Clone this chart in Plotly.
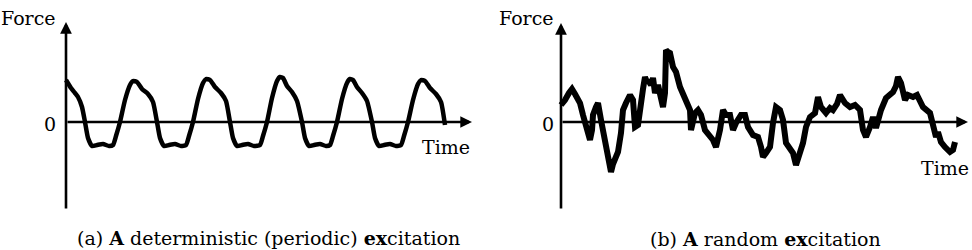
import plotly.graph_objects as go

# ---------------- data ----------------
# (a) deterministic periodic force vs time (arbitrary units)
t_a = [0, 5, 9, 12, 16, 19, 22, 26, 31, 37, 43, 47, 50,
       54, 59, 64, 67, 71, 76, 82, 87, 91, 94, 98, 103, 109, 115, 120, 123,
       127, 132, 137, 140, 144, 149, 155, 160, 164, 167, 171, 176, 182, 188, 194, 197,
       201, 206, 211, 214, 217, 221, 226, 231, 236, 239, 243, 248, 254, 260, 264, 267,
       271, 276, 281, 284, 287, 291, 296, 301, 306, 309, 313, 318, 324, 330, 335, 338,
       342, 347, 352, 355, 359, 364, 370, 375, 379]
f_a = [42, 34, 29, 25, 15, 0, -16, -24, -23, -22, -24, -23, -14,
       0, 22, 37, 41, 40, 33, 28, 20, 0, -16, -24, -23, -22, -24, -23, -14,
       0, 23, 39, 43, 42, 35, 29, 21, 0, -16, -24, -23, -22, -24, -23, -14,
       0, 24, 41, 45, 44, 36, 30, 21, 0, -16, -24, -23, -22, -24, -23, -14,
       0, 23, 39, 43, 42, 35, 29, 21, 0, -16, -24, -23, -22, -24, -23, -14,
       0, 22, 38, 42, 41, 34, 28, 20, -3]

# (b) random force vs time (arbitrary units)
t_b = [0, 2, 4, 8, 11, 14, 16, 19, 22, 25, 27, 29, 31, 32, 35, 37, 40, 44, 47, 50, 52, 54, 57,
       60, 62, 65, 69, 72, 74, 77, 80, 82, 84, 86, 87, 90, 92, 94, 97, 100, 102, 104, 105, 107,
       109, 112, 115, 119, 122, 125, 129, 130, 134, 137, 140, 144, 149, 152, 155, 159, 162,
       165, 169, 172, 175, 180, 184, 187, 192, 197, 200, 202, 205, 209, 212, 215, 219, 222,
       225, 232, 235, 239, 242, 245, 249, 254, 257, 260, 265, 269, 272, 276, 279, 284, 289,
       294, 299, 302, 305, 309, 312, 315, 320, 325, 332, 335, 337, 340, 344, 347, 352, 356,
       359, 362, 369, 372, 375, 377, 380, 384, 389, 392, 394, 399]
f_b = [17, 21, 22, 29, 33, 28, 25, 19, 7, -4, -10, -18, -8, 7, 15, 19, 2, -18, -35, -50, -42, -38,
       -30, -11, 12, 19, 27, 22, -5, -3, 25, 33, 45, 40, 42, 37, 44, 29, 37, 22, 15, 29, 72, 70,
       69, 55, 50, 35, 29, 22, 12, -8, 9, 12, 7, -8, -15, -18, -25, -8, 12,
       7, 7, -8, -1, 7, 7, -5, -13, -15, -25, -35, -31, -25, -1, 15, 12, 2,
       -21, -31, -43, -31, -21, -5, 5, 9, 25, 15, 9, 14, 12, 18, 27, 19, 15,
       17, 12, -8, -15, -5, 5, -6, 12, 24, 30, 36, 45, 39, 22, 27, 25, 27,
       19, 15, 9, -5, -15, -10, -20, -25, -30, -28, -20]

# axis extents (in each panel's data units)
AX_A = dict(top=100, bottom=-88, right=406)
AX_B = dict(top=99, bottom=-88, right=407)

FONT = "DejaVu Serif"

fig = go.Figure()
fig.add_trace(go.Scatter(x=t_a, y=f_a, mode="lines", xaxis="x", yaxis="y",
                         line=dict(color="black", width=4.5, shape="spline", smoothing=0.5),
                         hoverinfo="skip", showlegend=False))
fig.add_trace(go.Scatter(x=t_b, y=f_b, mode="lines", xaxis="x2", yaxis="y2",
                         line=dict(color="black", width=6),
                         hoverinfo="skip", showlegend=False))

ann = []


def axis_arrows(xr, yr, ext):
    common = dict(xref=xr, yref=yr, axref=xr, ayref=yr, text="", showarrow=True,
                  arrowhead=2, arrowsize=0.9, arrowwidth=2.6, arrowcolor="black")
    ann.append(dict(x=0, y=ext["top"], ax=0, ay=ext["bottom"], **common))
    ann.append(dict(x=ext["right"], y=0, ax=0, ay=0, **common))


def label(xr, yr, x, y, text, size=19):
    ann.append(dict(xref=xr, yref=yr, x=x, y=y, text=text, showarrow=False,
                    font=dict(family=FONT, size=size, color="black"),
                    xanchor="center", yanchor="middle"))


axis_arrows("x", "y", AX_A)
axis_arrows("x2", "y2", AX_B)

label("x", "y", -38, 104, "Force")
label("x", "y", -16, -2, "0")
label("x", "y", 380, -25, "Time")
label("x", "y", 202, -116, "(a) <b>A</b> deterministic (periodic) <b>ex</b>citation")

label("x2", "y2", -35, 104, "Force")
label("x2", "y2", -13, -2, "0")
label("x2", "y2", 384, -46, "Time")
label("x2", "y2", 204, -117, "(b) <b>A</b> random <b>ex</b>citation")

fig.update_layout(
    width=972, height=250, autosize=False,
    margin=dict(l=0, r=0, t=0, b=0),
    paper_bgcolor="white", plot_bgcolor="white",
    xaxis=dict(domain=[0, 0.5], range=[-66, 420], visible=False, anchor="y"),
    yaxis=dict(domain=[0, 1], range=[-128, 122], visible=False, anchor="x"),
    xaxis2=dict(domain=[0.5, 1], range=[-75, 411], visible=False, anchor="y2"),
    yaxis2=dict(domain=[0, 1], range=[-128, 122], visible=False, anchor="x2"),
    annotations=ann,
    showlegend=False,
)

fig.write_html("out.html")
